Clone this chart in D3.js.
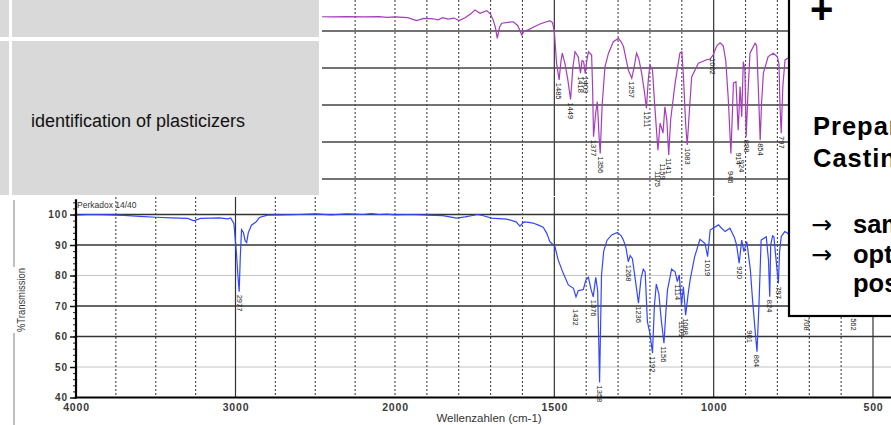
<!DOCTYPE html>
<html>
<head>
<meta charset="utf-8">
<script src="https://cdn.jsdelivr.net/npm/d3@7"></script>
<style>
  body { margin: 0; background: #fff; overflow: hidden; }
  svg { display: block; font-family: "Liberation Sans", Arial, sans-serif; }
</style>
</head>
<body>
<svg id="chart" width="891" height="425"></svg>
<script>
// ---- data ----
// blue spectrum (Perkadox 14/40): [wavenumber, %T]
const blueSpectrum = [
  [4000,99.8],[3900,100],[3800,99.9],[3700,99.7],[3600,99.4],[3500,99.1],[3400,98.9],[3300,98.7],
  [3260,97.9],[3220,98.7],[3150,98.8],[3100,98.9],[3050,98.6],[3030,98.9],[3010,97],[2995,88],
  [2985,80],[2977,74.7],[2970,86],[2962,95],[2950,94],[2940,91.5],[2930,90.8],[2920,94],
  [2900,96.5],[2870,97.6],[2850,99],[2800,99.8],[2700,99.9],[2600,100],[2500,100.2],[2400,99.9],
  [2300,100.2],[2200,100],[2150,100.3],[2100,100],[2050,100.1],[2000,99.9],[1950,100],[1900,99.8],
  [1850,99.6],[1806,98.8],[1780,99.2],[1740,100],[1720,99.5],[1697,98.8],[1650,98.5],[1620,97.6],
  [1608,96.2],[1595,97.6],[1580,97.4],[1567,97.2],[1550,96.5],[1535,95.8],[1524,93.9],[1514,91.1],
  [1503,90],[1498,89.5],[1488,85.1],[1472,80.7],[1456,76.9],[1440,75.8],[1432,73],[1425,75],
  [1417,75.2],[1409,75.4],[1401,78.5],[1393,79.4],[1385,75.5],[1378,73],[1370,79.4],[1364,75],
  [1358,44.9],[1352,80],[1345,88],[1335,91.5],[1320,93.3],[1302,94.1],[1290,93],[1283,91.6],
  [1275,89],[1268,84.5],[1262,86.5],[1255,85.5],[1245,78],[1236,70.9],[1228,79],[1221,82.1],
  [1215,81.2],[1208,64.9],[1200,61],[1192,54.5],[1186,70],[1180,77.2],[1172,74],[1165,66],
  [1156,57.8],[1150,68],[1145,75.2],[1132,82.1],[1121,81.2],[1114,78],[1108,80.2],[1101,70.3],
  [1095,76.3],[1088,67],[1080,74],[1074,78.5],[1060,86],[1043,91.9],[1027,90.5],[1019,86.2],
  [1011,94.9],[985,96.6],[975,95.5],[964,94.4],[949,95.5],[935,92.5],[928,90],[920,84],
  [912,91.6],[905,87.8],[896,91.1],[885,82],[878,72],[870,62],[864,55],[858,70],[851,91.6],
  [835,92.7],[828,85],[824,73],[821,90],[815,93],[811,92.7],[804,85],[797,77.4],[793,88],
  [788,92.7],[777,94.4],[770,94],[750,92],[730,90],[715,82],[708,67],[700,84],[680,92],
  [640,93],[600,92],[580,86],[570,78],[562,67],[555,82],[530,92],[500,93],[470,92],[440,92]
];

// purple spectrum (upper, reference sample): [wavenumber, %T]
const purpleSpectrum = [
  [2500,93.9],[2400,93.8],[2300,93.9],[2200,93.8],[2100,93.9],[2050,93.7],[2000,93.8],[1960,93.6],
  [1932,92.8],[1910,93.4],[1880,93.3],[1865,93],[1850,93.6],[1834,93.2],[1815,93.5],[1799,92.8],
  [1780,93.6],[1760,94.8],[1749,95.7],[1733,94.8],[1712,95.5],[1700,94.5],[1692,93],[1685,91],
  [1679,88],[1672,91],[1665,92.1],[1640,92.4],[1629,92.5],[1615,91.5],[1602,88.9],[1595,90],
  [1587,90.1],[1560,91.3],[1545,91.9],[1514,92.8],[1506,92.3],[1500,90],[1493,81.3],[1485,76.8],
  [1479,82],[1475,84],[1467,81.3],[1458,77],[1449,71.5],[1442,80],[1435,84.4],[1425,83],
  [1418,78.6],[1413,82],[1408,81.7],[1403,78.5],[1398,82],[1393,84.4],[1383,83.5],[1380,75],
  [1377,61.4],[1370,68],[1365,70.9],[1360,62],[1356,56.9],[1350,70],[1341,80.4],[1330,84],
  [1315,87.1],[1299,88],[1290,87],[1283,85.8],[1268,79.5],[1257,77.2],[1250,80],[1242,84],
  [1235,82.5],[1226,78.6],[1218,74],[1211,69.1],[1205,77],[1200,80.8],[1192,79.5],[1185,70],
  [1175,57.8],[1168,65.1],[1159,62.4],[1153,69.5],[1147,66],[1141,56.5],[1135,66],[1121,75.9],
  [1106,84],[1100,84.4],[1095,78],[1088,65],[1083,59.2],[1075,70],[1069,77.6],[1048,81.3],
  [1020,82.3],[1011,82.4],[1002,83.5],[990,86],[980,86.8],[970,86],[962,82],[954,71.4],
  [946,56.9],[942,66],[938,75.9],[930,76.3],[923,63.2],[917,75],[912,66.8],[907,81.7],
  [902,79.5],[898,61.4],[893,72],[886,84],[870,86.7],[865,86],[860,75],[854,60.5],
  [850,70],[844,78.6],[829,83.1],[813,84],[800,83],[795,81],[792,70],[788,62.4],
  [783,75],[776,82.2],[760,83],[740,83]
];

// peak annotations: [wavenumber, %T, printed label]
const bluePeaks = [
  [2977,74.7,"2977"],[1432,70,"1432"],[1378,73,"1376"],[1358,44.9,"1358"],[1268,84.5,"1268"],
  [1236,70.9,"1236"],[1192,54.5,"1192"],[1156,57.8,"1156"],[1114,78,"1114"],[1101,66,"1101"],
  [1088,67,"1088"],[1019,86.2,"1019"],[920,84,"920"],[888,63,"901"],[864,55,"864"],
  [824,73,"824"],[797,77.4,"797"],[708,67,"708"],[562,67,"562"]
];
const purplePeaks = [
  [1485,76.8,"1485"],[1449,71.5,"1449"],[1418,78.6,"1418"],[1403,78.5,"1403"],[1377,61.4,"1377"],
  [1356,56.9,"1356"],[1257,77.2,"1257"],[1211,69.1,"1211"],[1175,53,"1175"],[1159,55,"1159"],
  [1141,56.5,"1141"],[1083,59.2,"1083"],[1002,83.5,"1002"],[946,53,"946"],[923,58,"914"],
  [912,56,"924"],[898,61.4,"898"],[854,60.5,"854"],[788,62.4,"797"]
];

// axes / grids
const xTickLabels = [4000, 3000, 2000, 1500, 1000, 500];
const yTickLabels = [40, 50, 60, 70, 80, 90, 100];
const gridSolid = [3000, 1500, 1000, 500];
const gridDashed = [3750, 3500, 3250, 2750, 2500, 2250, 2000, 1900, 1800, 1700, 1600,
                    1400, 1300, 1200, 1100, 900, 800, 700, 600];
const lowGridDark = [100, 90, 70, 60];
const lowGridLight = [80, 50];
const upGrid = [90, 80, 70, 60, 50];

// slide text
const cellText = "identification of plasticizers";
const boxHeadings = ["Preparation", "Casting"];
const boxBullets = ["sample", "optical", "possible"];

// ---- scales ----
// IR spectra: scale change at 2000 cm-1
const x = d3.scaleLinear().domain([4000, 2000, 500]).range([76, 395, 873]);
const yLow = d3.scaleLinear().domain([40, 100]).range([397.5, 214.5]);
const yUp = d3.scaleLinear().domain([50, 90]).range([179, 31]);

const svg = d3.select("#chart");
const defs = svg.append("defs");
defs.append("clipPath").attr("id", "clipUp")
  .append("rect").attr("x", 322).attr("y", 0).attr("width", 467).attr("height", 196);
defs.append("clipPath").attr("id", "clipLow")
  .append("rect").attr("x", 76).attr("y", 196).attr("width", 815).attr("height", 202);

function drawGrid(g, y0, y1) {
  g.selectAll(".vs").data(gridSolid).join("line")
    .attr("x1", d => x(d)).attr("x2", d => x(d)).attr("y1", y0).attr("y2", y1)
    .attr("stroke", "#333").attr("stroke-width", 1.2);
  g.selectAll(".vd").data(gridDashed).join("line")
    .attr("x1", d => x(d)).attr("x2", d => x(d)).attr("y1", y0).attr("y2", y1)
    .attr("stroke", "#444").attr("stroke-width", 1.1).attr("stroke-dasharray", "2,2");
}

function drawPeaks(g, peaks, yScale) {
  g.selectAll(".pk").data(peaks).join("text")
    .attr("transform", d => `translate(${x(d[0])},${yScale(d[1]) + 3}) rotate(90)`)
    .attr("dy", "0.35em")
    .attr("font-size", 7.5)
    .attr("fill", "#222")
    .text(d => d[2]);
}

// ---- upper spectrum (partly hidden) ----
const up = svg.append("g").attr("clip-path", "url(#clipUp)");
drawGrid(up.append("g"), 0, 196);
up.append("g").selectAll("line").data(upGrid).join("line")
  .attr("x1", 322).attr("x2", 789).attr("y1", d => yUp(d)).attr("y2", d => yUp(d))
  .attr("stroke", "#444").attr("stroke-width", 1.3);
up.append("path").datum(purpleSpectrum)
  .attr("fill", "none").attr("stroke", "#a63cbc").attr("stroke-width", 1.2)
  .attr("d", d3.line().x(d => x(d[0])).y(d => yUp(d[1])));
drawPeaks(svg.append("g"), purplePeaks, yUp);

// ---- lower spectrum ----
const low = svg.append("g").attr("clip-path", "url(#clipLow)");
low.append("g").selectAll("line").data(lowGridLight).join("line")
  .attr("x1", 76).attr("x2", 891).attr("y1", d => yLow(d)).attr("y2", d => yLow(d))
  .attr("stroke", "#c4c4c4").attr("stroke-width", 1.2);
low.append("g").selectAll("line").data(lowGridDark).join("line")
  .attr("x1", 76).attr("x2", 891).attr("y1", d => yLow(d)).attr("y2", d => yLow(d))
  .attr("stroke", "#333").attr("stroke-width", 1.3);
drawGrid(low.append("g"), 197, 398);
low.append("path").datum(blueSpectrum)
  .attr("fill", "none").attr("stroke", "#3346ff").attr("stroke-width", 1.2)
  .attr("d", d3.line().x(d => x(d[0])).y(d => yLow(d[1])));

svg.append("text").attr("x", 77).attr("y", 208)
  .attr("font-size", 8.5).attr("fill", "#333").text("Perkadox 14/40");

// y axis
const yMinor = svg.append("g").attr("transform", "translate(76,0)")
  .call(d3.axisLeft(yLow).tickValues(d3.range(40, 105, 2)).tickSize(3).tickFormat(""));
yMinor.select(".domain").remove();
yMinor.selectAll("line").attr("stroke", "#222");
const yAx = svg.append("g").attr("transform", "translate(76,0)")
  .call(d3.axisLeft(yLow).tickValues(yTickLabels).tickSize(6).tickPadding(2));
yAx.select(".domain").remove();
yAx.selectAll("line").attr("stroke", "#111").attr("stroke-width", 1.5);
yAx.selectAll("text").attr("font-size", 10).attr("font-weight", "bold").attr("fill", "#3a3a3a")
  .attr("letter-spacing", 1).attr("font-family", "Liberation Sans, Arial, sans-serif");
svg.append("line").attr("x1", 76).attr("x2", 76).attr("y1", yLow(105)).attr("y2", 398.5)
  .attr("stroke", "#000").attr("stroke-width", 2.2);

// x axis
const xAx = svg.append("g").attr("transform", "translate(0,397.5)")
  .call(d3.axisBottom(x).tickValues(xTickLabels).tickSize(0).tickPadding(6).tickFormat(d3.format("d")));
xAx.select(".domain").remove();
xAx.selectAll("text").attr("font-size", 10.5).attr("font-weight", "bold").attr("fill", "#3a3a3a")
  .attr("letter-spacing", 0.8).attr("font-family", "Liberation Sans, Arial, sans-serif");
svg.append("line").attr("x1", 75).attr("x2", 891).attr("y1", 397.5).attr("y2", 397.5)
  .attr("stroke", "#000").attr("stroke-width", 2.2);

// peak labels drawn unclipped (the 1358 label runs past the axis)
drawPeaks(svg.append("g"), bluePeaks, yLow);

svg.append("text").attr("x", 489).attr("y", 422).attr("text-anchor", "middle")
  .attr("font-size", 11.5).attr("fill", "#333").text("Wellenzahlen (cm-1)");
svg.append("text").attr("transform", "translate(25,300) rotate(-90)")
  .attr("text-anchor", "middle").attr("font-size", 11.5).attr("fill", "#333")
  .attr("textLength", 64).attr("lengthAdjust", "spacingAndGlyphs").text("%Transmission");
svg.append("line").attr("x1", 14).attr("x2", 14).attr("y1", 200).attr("y2", 267)
  .attr("stroke", "#aaa").attr("stroke-width", 1.5);
svg.append("line").attr("x1", 14).attr("x2", 14).attr("y1", 333).attr("y2", 425)
  .attr("stroke", "#aaa").attr("stroke-width", 1.5);

// ---- slide table cells (top left) ----
const cells = svg.append("g").attr("fill", "#d9d9d9");
cells.append("rect").attr("x", 0).attr("y", 0).attr("width", 9).attr("height", 37);
cells.append("rect").attr("x", 12).attr("y", 0).attr("width", 307).attr("height", 37);
cells.append("rect").attr("x", 0).attr("y", 41).attr("width", 9).attr("height", 154);
cells.append("rect").attr("x", 12).attr("y", 41).attr("width", 307).attr("height", 154);
svg.append("text").attr("x", 31).attr("y", 127)
  .attr("font-size", 18).attr("fill", "#111").text(cellText);

// ---- slide text box (right) ----
svg.append("rect").attr("x", 789).attr("y", -5).attr("width", 120).attr("height", 321)
  .attr("fill", "#fff").attr("stroke", "#000").attr("stroke-width", 2.2);
svg.append("text").attr("x", 810).attr("y", 23)
  .attr("font-size", 40).attr("font-weight", "bold").attr("fill", "#000").text("+");
svg.selectAll(".hd").data(boxHeadings).join("text")
  .attr("x", 813).attr("y", (d, i) => 135 + i * 32)
  .attr("font-size", 25.5).attr("letter-spacing", 1).attr("font-weight", "bold")
  .attr("fill", "#000").text(d => d);
svg.selectAll(".arr").data(boxBullets.slice(0, 2)).join("text")
  .attr("x", 811).attr("y", (d, i) => 233 + i * 30)
  .attr("font-family", "DejaVu Sans, sans-serif")
  .attr("font-size", 25).attr("fill", "#000").text("\u2192");
svg.selectAll(".bl").data(boxBullets).join("text")
  .attr("x", 853).attr("y", (d, i) => 233 + i * 29.5)
  .attr("font-size", 25.5).attr("font-weight", "bold").attr("fill", "#000").text(d => d);
</script>
</body>
</html>
